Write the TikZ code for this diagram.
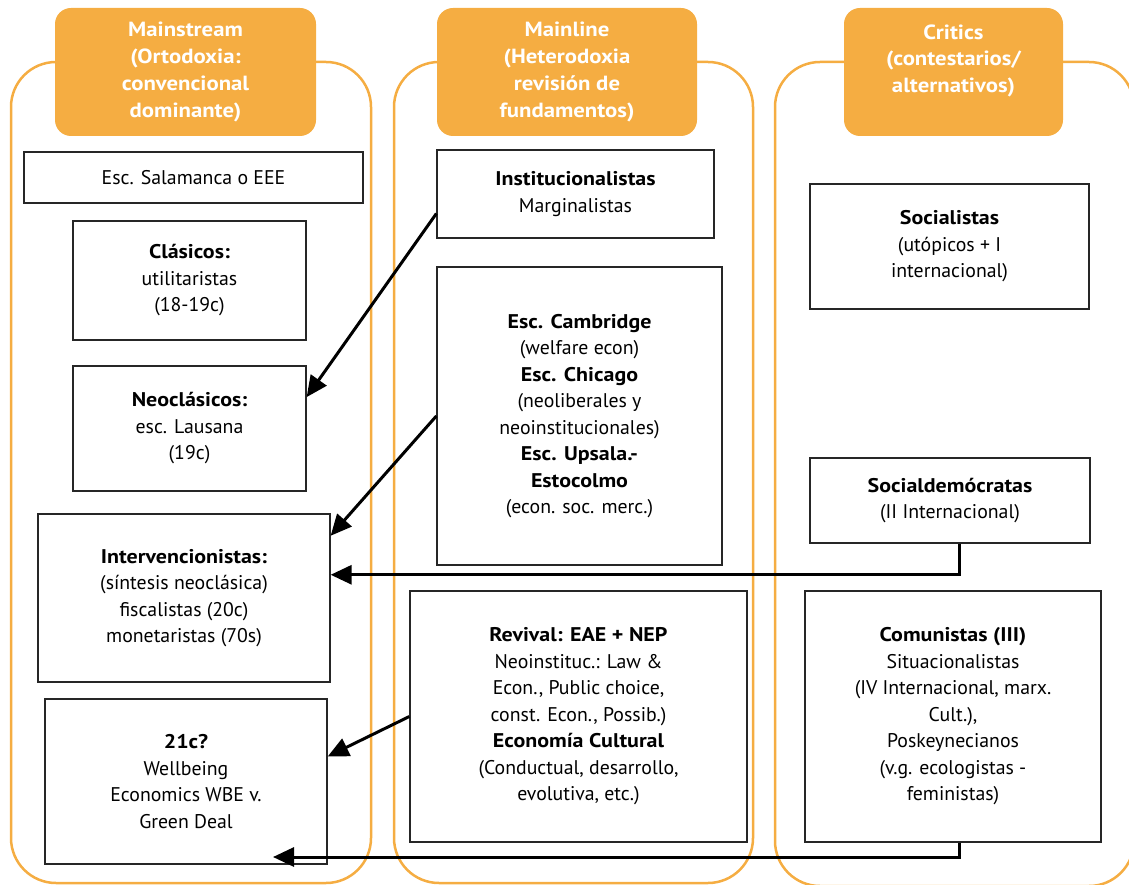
\documentclass[tikz,border=0pt]{standalone}
\usepackage{fontspec}
\setmainfont{PT Sans}[BoldFeatures={FakeStretch=1.11}]
\usetikzlibrary{arrows.meta}
\definecolor{headorange}{RGB}{245,173,66}

\begin{document}
\begin{tikzpicture}[x=1pt,y=-1pt,
  column/.style={draw=headorange,line width=2.5pt,rounded corners=45pt},
  head/.style={fill=headorange,rounded corners=16pt,text=white,align=center,inner sep=0pt,
    font=\fontsize{20.5}{26.7}\selectfont\bfseries},
  school/.style={draw=black!85,line width=1.3pt,fill=white,align=center,inner sep=0pt,
    font=\fontsize{19.8}{26.5}\selectfont},
  link/.style={line width=3pt,-{Triangle[length=21pt,width=19pt]}}]
\useasboundingbox (0,0) rectangle (1129,885);
\clip (0,0) rectangle (1129,885);
% three columns
\draw[column] (11,62) rectangle (371,883);
\draw[column] (394,62) rectangle (753,883);
\draw[column] (775,62) rectangle (1134,886);
\node[head,minimum width=261pt,minimum height=128pt] (mainstream) at (185.5,72)
  {Mainstream\\(Ortodoxia:\\convencional\\dominante)};
\node[head,minimum width=260pt,minimum height=128pt] (mainline) at (567,72)
  {Mainline\\(Heterodoxia\\revisión de\\fundamentos)};
\node[head,minimum width=219pt,minimum height=128pt] (critics) at (953.5,72)
  {Critics\\(contestarios/\\alternativos)\\\mbox{}};
% mainstream
\node[school,minimum width=339pt,minimum height=51pt] (salam) at (193.5,177.5)
  {Esc. Salamanca o EEE};
\node[school,minimum width=233pt,minimum height=119pt] (clas) at (189.5,280.5)
  {\textbf{Clásicos:}\\utilitaristas\\(18-19c)};
\node[school,minimum width=233pt,minimum height=125pt] (neo) at (189.5,428.5)
  {\textbf{Neoclásicos:}\\esc. Lausana\\(19c)};
\node[school,minimum width=292pt,minimum height=168pt] (interv) at (184,598)
  {\textbf{Intervencionistas:}\\(síntesis neoclásica)\\fiscalistas (20c)\\monetaristas (70s)};
\node[school,minimum width=282pt,minimum height=165pt] (wbe) at (186,781.5)
  {\textbf{21c?}\\Wellbeing\\Economics WBE v.\\Green Deal};
% mainline
\node[school,minimum width=277pt,minimum height=88pt] (inst) at (575.5,194)
  {\textbf{Institucionalistas}\\Marginalistas};
\node[school,minimum width=285pt,minimum height=298pt] (camb) at (579.5,416)
  {\textbf{Esc. Cambridge}\\(welfare econ)\\\textbf{Esc. Chicago}\\(neoliberales y\\neoinstitucionales)\\
   \textbf{Esc. Upsala.-}\\\textbf{Estocolmo}\\(econ. soc. merc.)};
\node[school,minimum width=337pt,minimum height=251pt] (rev) at (578.5,716.5)
  {\textbf{Revival: EAE + NEP}\\Neoinstituc.: Law \&\\Econ., Public choice,\\const. Econ., Possib.)\\
   \textbf{Economía Cultural}\\(Conductual, desarrollo,\\evolutiva, etc.)};
% critics
\node[school,minimum width=279pt,minimum height=125pt] (soc) at (949.5,246.5)
  {\textbf{Socialistas}\\(utópicos + I\\internacional)};
\node[school,minimum width=280pt,minimum height=85pt] (socdem) at (950,500.5)
  {\textbf{Socialdemócratas}\\(II Internacional)};
\node[school,minimum width=296pt,minimum height=251pt] (com) at (953,716.5)
  {\textbf{Comunistas (III)}\\Situacionalistas\\(IV Internacional, marx.\\Cult.),\\Poskeynecianos\\
   (v.g. ecologistas -\\feministas)};
% influences
\coordinate (wbeend) at (273,857);
\draw[link] (inst.188) -- (neo.15);
\draw[link] (camb.west) -- (interv.23);
\draw[link] (socdem.-77) |- (interv.9);
\draw[link] (rev.west) -- (wbe.10);
\draw[link] (com.-87) |- (wbeend);
\end{tikzpicture}
\end{document}
